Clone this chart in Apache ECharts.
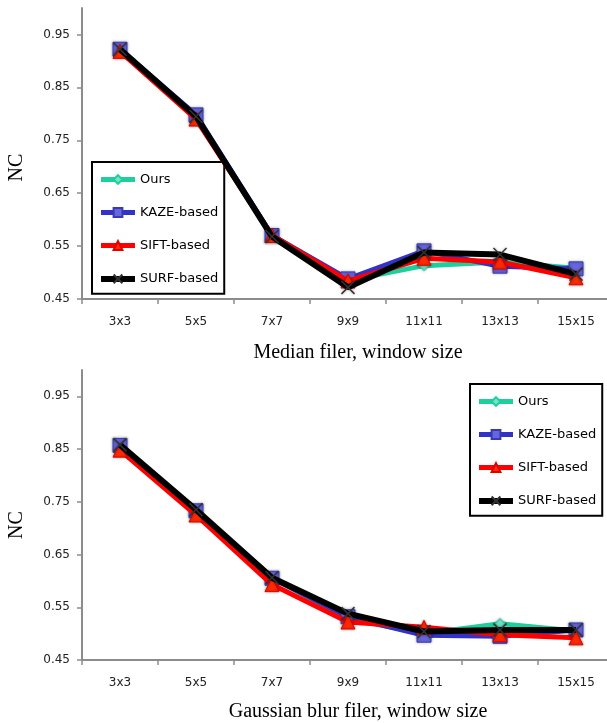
<!DOCTYPE html>
<html><head><meta charset="utf-8">
<script src="https://cdn.jsdelivr.net/npm/echarts@6/dist/echarts.min.js"></script>
<style>html,body{margin:0;padding:0;background:#fff}#c{width:607px;height:723px}</style>
</head><body><div id="c"></div>
<script>
var categories = ['3x3','5x5','7x7','9x9','11x11','13x13','15x15'];
var yTicks = [0.45,0.55,0.65,0.75,0.85,0.95];
var seriesNames = ['Ours','KAZE-based','SIFT-based','SURF-based'];
// Median filter panel
var medOurs = [0.920, 0.795, 0.570, 0.485, 0.513, 0.520, 0.508];
var medKaze = [0.922, 0.798, 0.570, 0.488, 0.541, 0.512, 0.507];
var medSift = [0.918, 0.790, 0.570, 0.484, 0.527, 0.520, 0.490];
var medSurf = [0.922, 0.795, 0.568, 0.472, 0.538, 0.534, 0.497];
// Gaussian blur panel
var gauOurs = [0.855, 0.732, 0.607, 0.528, 0.500, 0.519, 0.505];
var gauKaze = [0.857, 0.733, 0.605, 0.532, 0.497, 0.495, 0.507];
var gauSift = [0.848, 0.725, 0.593, 0.522, 0.512, 0.498, 0.492];
var gauSurf = [0.858, 0.735, 0.606, 0.538, 0.504, 0.507, 0.507];

var SANS = 'DejaVu Sans';
var SERIF = 'Liberation Serif';
var axisGray = '#8c8c8c';

var styles = [
  {symbol:'diamond', size:10, line:'#1ccf9c', width:5, fill:'#6fe6c8', border:'#1ccf9c', bw:1},
  {symbol:'rect', size:14, line:'#3232c8', width:5, fill:'#6666e0', border:'#3a3ab0', bw:1},
  {symbol:'triangle', size:14, line:'#ff0000', width:5, fill:'#ff2a00', border:'#e00000', bw:1},
  {symbol:'path://M0,0L10,10M10,0L0,10', size:13, line:'#000000', width:6, fill:'none', border:'#333333', bw:1.5}
];

function mkSeries(data, idx, gi){
  var s = styles[idx];
  return {
    type:'line', name: seriesNames[idx], xAxisIndex: gi, yAxisIndex: gi,
    data: data, symbol: s.symbol, symbolSize: s.size, showAllSymbol:true,
    lineStyle:{color:s.line, width:s.width},
    itemStyle:{color:s.fill, borderColor:s.border, borderWidth:s.bw, shadowBlur:3, shadowColor:'rgba(0,0,0,0.35)'},
    emphasis:{disabled:true}, z: 2 + idx
  };
}

function xAxis(gi, name, gap){
  return {
    type:'category', gridIndex:gi, data:categories, boundaryGap:true,
    axisLine:{lineStyle:{color:axisGray, width:2}},
    axisTick:{show:true, length:5, lineStyle:{color:axisGray, width:1.5}},
    axisLabel:{color:'#222', fontFamily:SANS, fontSize:12, margin:17},
    name:name, nameLocation:'middle', nameGap:gap,
    nameTextStyle:{fontFamily:SERIF, fontSize:20, color:'#000', padding:[0,0,0,20]}
  };
}
function yAxis(gi, pad){
  return {
    type:'value', gridIndex:gi, min:0.45, max:1.0, interval:0.1,
    axisLine:{show:true, lineStyle:{color:axisGray, width:2}},
    axisTick:{show:true, length:5, customValues:yTicks, lineStyle:{color:axisGray, width:1.5}},
    axisLabel:{color:'#222', fontFamily:SANS, fontSize:12, margin:12, customValues:yTicks,
      formatter:function(v){return v.toFixed(2);}},
    splitLine:{show:false},
    name:'NC', nameLocation:'middle', nameGap:55,
    nameTextStyle:{fontFamily:SERIF, fontSize:20, color:'#000', padding:[0,pad,0,0]}
  };
}
function legend(left, top){
  return {
    orient:'vertical', left:left, top:top,
    data: seriesNames.map(function(n, i){ return {name:n, lineStyle:{width:styles[i].width}}; }),
    itemWidth:34, itemHeight:11, itemGap:20,
    padding:[11,6,8,6], borderColor:'#000', borderWidth:2, backgroundColor:'#fff',
    textStyle:{fontFamily:SANS, fontSize:13, color:'#000'},
    selectedMode:false
  };
}

var chart = echarts.init(document.getElementById('c'), null, {renderer:'canvas'});
chart.setOption({
  animation:false,
  backgroundColor:'#fff',
  grid:[
    {left:82, top:8, width:532, height:291, outerBoundsMode:'none', containLabel:false},
    {left:82, top:370, width:532, height:290, outerBoundsMode:'none', containLabel:false}
  ],
  xAxis:[xAxis(0,'Median filer, window size',44), xAxis(1,'Gaussian blur filer, window size',42)],
  yAxis:[yAxis(0,28), yAxis(1,20)],
  legend:[legend(92,162), legend(470,384)],
  series:[
    mkSeries(medOurs,0,0), mkSeries(medKaze,1,0), mkSeries(medSift,2,0), mkSeries(medSurf,3,0),
    mkSeries(gauOurs,0,1), mkSeries(gauKaze,1,1), mkSeries(gauSift,2,1), mkSeries(gauSurf,3,1)
  ]
});
</script></body></html>
